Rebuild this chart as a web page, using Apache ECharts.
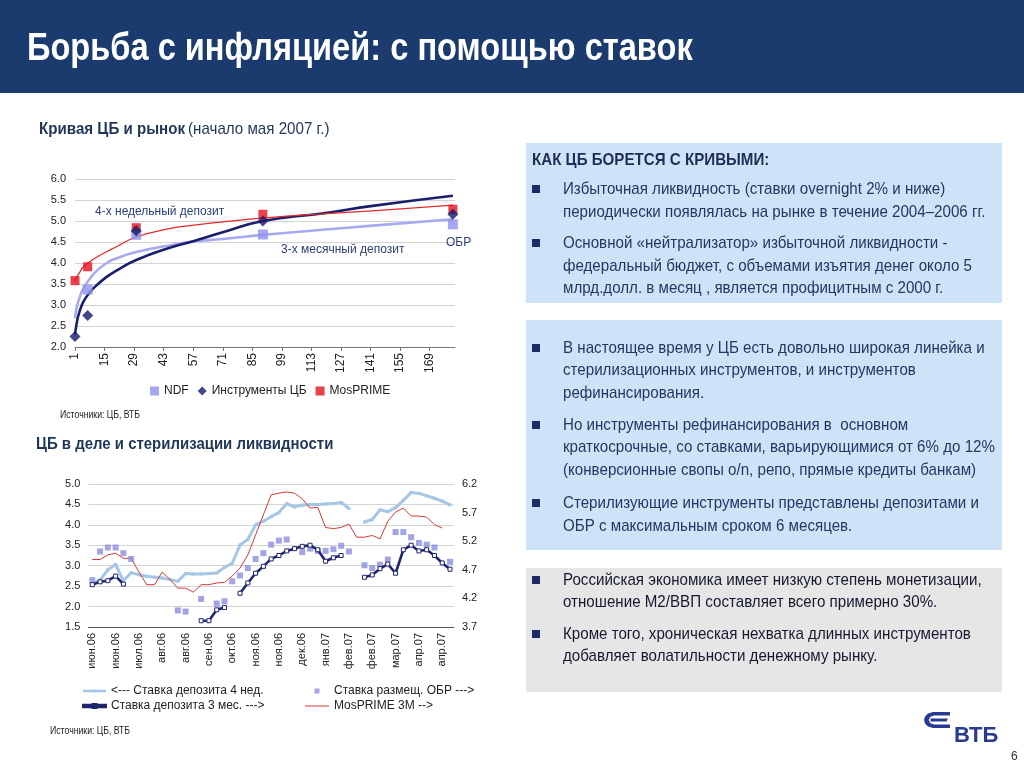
<!DOCTYPE html>
<html><head><meta charset="utf-8">
<script src="https://cdn.jsdelivr.net/npm/echarts@6/dist/echarts.min.js"></script>
<style>html,body{margin:0;padding:0;background:#fff}#c{width:1024px;height:768px}</style>
</head><body><div id="c"></div>
<script>
// ---------- Top chart: curve (days) ----------
const curveDayLabels = Array.from({length: 181}, (_, i) => String(i + 1));
const pointDays = ['1', '7', '30', '90', '180'];
const ndfPoints = [null, 3.37, 4.67, 4.68, 4.92];
const cbPoints = [2.25, 2.75, 4.77, 5.00, 5.16];
const mosPoints = [3.58, 3.91, 4.84, 5.16, 5.28];
const trendDays = ['1','2','3','5','8','11','16','20','30','47','57','71','90','118','142','180'];
const ndfTrend = [2.68, 2.98, 3.15, 3.40, 3.62, 3.80, 4.00, 4.10, 4.26, 4.43, 4.51, 4.57, 4.67, 4.79, 4.89, 5.04];
const cbTrend  = [2.30, 2.62, 2.82, 3.08, 3.30, 3.46, 3.67, 3.80, 4.07, 4.38, 4.52, 4.73, 5.00, 5.18, 5.36, 5.60];
const mosTrend = [3.58, 3.68, 3.76, 3.91, 4.03, 4.13, 4.27, 4.37, 4.62, 4.83, 4.90, 4.98, 5.07, 5.17, 5.24, 5.38];

// ---------- Bottom chart: weekly ----------
const weekCats = [
 'июн.06','июн.06','июн.06','июн.06','июн.06',
 'июл.06','июл.06','июл.06',
 'авг.06','авг.06','авг.06','авг.06','авг.06','авг.06',
 'сен.06','сен.06','сен.06','сен.06',
 'окт.06','окт.06','окт.06',
 'ноя.06','ноя.06','ноя.06','ноя.06','ноя.06',
 'дек.06','дек.06','дек.06','дек.06',
 'янв.07','янв.07','янв.07',
 'фев.07','фев.07','фев.07','фев.07','фев.07',
 'мар.07','мар.07','мар.07','мар.07',
 'апр.07','апр.07','апр.07','апр.07','апр.07'
];
const dep4w = [2.55,2.65,2.90,3.03,2.63,2.83,2.78,2.74,2.72,2.70,2.66,2.62,2.81,2.80,2.80,2.81,2.82,2.96,3.06,3.51,3.64,4.00,4.09,4.20,4.30,4.52,4.44,4.48,4.50,4.50,4.51,4.52,4.55,4.40,null,4.07,4.13,4.37,4.32,4.42,4.60,4.79,4.77,4.71,4.65,4.58,4.49];
const dep3m = [4.44,4.49,4.51,4.59,4.45,null,null,null,null,null,null,null,null,null,3.81,3.81,4.00,4.04,null,4.29,4.47,4.64,4.76,4.89,4.95,5.03,5.07,5.11,5.13,5.05,4.85,4.91,4.95,null,null,4.57,4.61,4.72,4.80,4.64,5.05,5.13,5.03,5.05,4.95,4.82,4.71];
const obr = [4.52,5.02,5.09,5.09,4.99,4.89,null,null,null,null,null,3.99,3.97,null,4.19,null,4.11,4.15,4.50,4.60,4.73,4.89,4.99,5.14,5.21,5.23,null,5.01,5.07,5.03,5.03,5.06,5.12,5.02,null,4.78,4.73,4.79,4.88,5.36,5.36,5.27,5.17,5.14,5.09,null,4.84];
const mosprime3m = [4.88,4.88,4.96,4.99,4.90,4.90,4.66,4.44,4.44,4.66,4.53,4.38,4.38,4.31,4.44,4.44,4.47,4.48,4.59,4.73,4.96,5.31,5.66,6.01,6.04,6.06,6.04,5.94,5.78,5.79,5.44,5.42,5.44,5.50,5.27,5.27,5.30,5.24,5.55,5.71,5.78,5.64,5.64,5.62,5.49,5.43,null];

const pairs = (xs, ys) => xs.map((x, i) => [x, ys[i]]).filter(p => p[1] != null);

const FONT = '"Liberation Sans", Arial, sans-serif';
const NAVY_TXT = '#25365f';
function T(x, y, text, o) {
  o = o || {};
  return {
    type: 'text', x: x, y: y, scaleX: o.sx || 1, z: 10,
    style: {
      text: text, x: 0, y: 0,
      fontSize: o.size || 17, fontWeight: o.bold ? 'bold' : 'normal',
      fontFamily: FONT, fill: o.color || NAVY_TXT,
      align: o.align || 'left', verticalAlign: 'middle'
    }
  };
}
function bullet(y) {
  return {type: 'rect', shape: {x: 532, y: y - 4, width: 8, height: 8}, style: {fill: '#1d2a66'}, z: 10};
}
const SX = 0.89;
const graphics = [
  {type: 'rect', shape: {x: 0, y: 0, width: 1024, height: 93}, style: {fill: '#1b3a6e'}, z: 1},
  T(27, 49, 'Борьба с инфляцией: с помощью ставок', {size: 39, bold: true, color: '#ffffff', sx: 0.836}),
  {type: 'text', x: 39, y: 129, scaleX: SX, z: 10, style: {
     x: 0, y: 0, verticalAlign: 'middle', fontFamily: FONT,
     text: '{b|Кривая ЦБ и рынок} {n|(начало мая 2007 г.)}',
     rich: {b: {fontSize: 17, fontWeight: 'bold', fill: '#1f3559', fontFamily: FONT},
            n: {fontSize: 17, fill: '#1f3559', fontFamily: FONT}}
  }},
  T(95, 212, '4-х недельный депозит', {size: 12, color: '#2b3f77'}),
  T(281, 250, '3-х месячный депозит', {size: 12, color: '#2b3f77'}),
  T(446, 243, 'ОБР', {size: 12, color: '#2b3f77'}),
  T(60, 415, 'Источники: ЦБ, ВТБ', {size: 10, color: '#222', sx: 0.87}),
  T(36, 444, 'ЦБ в деле и стерилизации ликвидности', {size: 17, bold: true, color: '#1f3559', sx: 0.88}),
  T(50, 731, 'Источники: ЦБ, ВТБ', {size: 10, color: '#222', sx: 0.87}),
  // Right boxes
  {type: 'rect', shape: {x: 526, y: 143, width: 476, height: 160}, style: {fill: '#cfe3f8'}, z: 1},
  {type: 'rect', shape: {x: 526, y: 320, width: 476, height: 230}, style: {fill: '#cfe3f8'}, z: 1},
  {type: 'rect', shape: {x: 526, y: 568, width: 476, height: 124}, style: {fill: '#e6e6e6'}, z: 1},
  T(532, 160, 'КАК ЦБ БОРЕТСЯ С КРИВЫМИ:', {bold: true, color: '#1f2d55', sx: SX}),
  bullet(189), bullet(243),
  T(563, 189, 'Избыточная ликвидность (ставки overnight 2% и ниже)', {sx: SX}),
  T(563, 212, 'периодически появлялась на рынке в течение 2004–2006 гг.', {sx: SX}),
  T(563, 243, 'Основной «нейтрализатор» избыточной ликвидности -', {sx: SX}),
  T(563, 266, 'федеральный бюджет, с объемами изъятия денег около 5', {sx: SX}),
  T(563, 288, 'млрд.долл. в месяц , является профицитным с 2000 г.', {sx: SX}),
  bullet(348), bullet(425), bullet(503),
  T(563, 348, 'В настоящее время у ЦБ есть довольно широкая линейка и', {sx: SX}),
  T(563, 370, 'стерилизационных инструментов, и инструментов', {sx: SX}),
  T(563, 393, 'рефинансирования.', {sx: SX}),
  T(563, 425, 'Но инструменты рефинансирования в  основном', {sx: SX}),
  T(563, 447, 'краткосрочные, со ставками, варьирующимися от 6% до 12%', {sx: SX}),
  T(563, 470, '(конверсионные свопы о/n, репо, прямые кредиты банкам)', {sx: SX}),
  T(563, 503, 'Стерилизующие инструменты представлены депозитами и', {sx: SX}),
  T(563, 526, 'ОБР с максимальным сроком 6 месяцев.', {sx: SX}),
  bullet(580), bullet(634),
  T(563, 580, 'Российская экономика имеет низкую степень монетизации,', {sx: SX, color: '#16192e'}),
  T(563, 602, 'отношение М2/ВВП составляет всего примерно 30%.', {sx: SX, color: '#16192e'}),
  T(563, 634, 'Кроме того, хроническая нехватка длинных инструментов', {sx: SX, color: '#16192e'}),
  T(563, 656, 'добавляет волатильности денежному рынку.', {sx: SX, color: '#16192e'}),
  // Logo
  {type: 'polygon', z: 10, shape: {points: [[950,712],[933,712],[928,713.5],[925,716.5],[924,720],[925,723.5],[928,726.5],[933,728],[950,728],[950,724.5],[934,724.5],[930.5,723.3],[928.6,720],[930.5,716.7],[934,715.5],[950,715.5]]}, style: {fill: '#2a3c8f'}},
  {type: 'polygon', z: 10, shape: {points: [[930.5,718.6],[948,718.6],[946.5,721.4],[930.5,721.4]]}, style: {fill: '#2a3c8f'}},
  T(954, 736, 'ВТБ', {size: 22, bold: true, color: '#2a3c8f'}),
  T(1011, 757, '6', {size: 12, color: '#333'})
];

const axisLabelStyle = {color: '#222', fontSize: 11, fontFamily: FONT};
const option = {
  animation: false,
  backgroundColor: '#ffffff',
  textStyle: {fontFamily: FONT},
  graphic: graphics,
  grid: [
    {left: 75, top: 179, width: 380, height: 168},
    {left: 88.4, top: 484, width: 365.5, height: 143}
  ],
  xAxis: [
    {gridIndex: 0, type: 'category', data: curveDayLabels, boundaryGap: false,
     axisLine: {lineStyle: {color: '#777'}},
     axisTick: {interval: 13, length: 4, lineStyle: {color: '#777'}},
     axisLabel: {interval: 13, rotate: 90, fontSize: 12, margin: 6, color: '#222', fontFamily: FONT},
     splitLine: {show: false}},
    {gridIndex: 1, type: 'category', data: weekCats, boundaryGap: true,
     axisLine: {lineStyle: {color: '#555'}},
     axisTick: {interval: 0, length: 4, lineStyle: {color: '#555'}},
     axisLabel: Object.assign({interval: 2, rotate: 90, margin: 6}, axisLabelStyle),
     splitLine: {show: false}}
  ],
  yAxis: [
    {gridIndex: 0, type: 'value', min: 2, max: 6, interval: 0.5,
     axisLine: {show: false}, axisTick: {show: false},
     axisLabel: Object.assign({formatter: v => v.toFixed(1), margin: 9}, axisLabelStyle),
     splitLine: {lineStyle: {color: '#d4d4d4'}}},
    {gridIndex: 1, type: 'value', min: 1.5, max: 5.0, interval: 0.5,
     axisLine: {show: false}, axisTick: {show: false},
     axisLabel: Object.assign({formatter: v => v.toFixed(1), margin: 8}, axisLabelStyle),
     splitLine: {lineStyle: {color: '#d4d4d4'}}},
    {gridIndex: 1, type: 'value', position: 'right', min: 3.7, max: 6.2, interval: 0.5,
     axisLine: {show: false}, axisTick: {show: false},
     axisLabel: Object.assign({formatter: v => v.toFixed(1), margin: 8}, axisLabelStyle),
     splitLine: {show: false}}
  ],
  legend: [
    {data: ['NDF', 'Инструменты ЦБ', 'MosPRIME'], left: 145, top: 380,
     itemWidth: 9, itemHeight: 9, itemGap: 9,
     textStyle: {fontSize: 12, color: '#222', fontFamily: FONT}},
    {data: [
       {name: '<--- Ставка депозита 4 нед.', icon: 'path://M0,0M23,10M0,3.8h23v2.4h-23Z M10,3.5h3v3h-3Z', itemStyle: {color: '#a5c6e6'}},
       {name: 'Ставка депозита 3 мес. --->', icon: 'path://M0,0M23,10M0,3.7h23v2.6h-23Z M9.5,3h4v4h-4Z', itemStyle: {color: '#1f2670'}}
     ], orient: 'vertical',
     left: 82, top: 684, itemWidth: 23, itemHeight: 10, itemGap: 1, padding: 0,
     textStyle: {fontSize: 12, color: '#222', fontFamily: FONT, lineHeight: 14}},
    {data: [
       {name: 'Ставка размещ. ОБР --->', icon: 'path://M0,0M24,10M9.5,2.5h5v5h-5Z'},
       {name: 'MosPRIME 3M -->', icon: 'path://M0,0M24,10M0,4.5h24v1h-24Z'}
     ], orient: 'vertical',
     left: 305, top: 684, itemWidth: 24, itemHeight: 10, itemGap: 1, padding: 0,
     textStyle: {fontSize: 12, color: '#222', fontFamily: FONT, lineHeight: 14}}
  ],
  series: [
    {name: 'NDF тренд', type: 'line', xAxisIndex: 0, yAxisIndex: 0, data: pairs(trendDays, ndfTrend),
     smooth: 0.5, symbol: 'none', lineStyle: {color: '#a8aaf0', width: 2.6}, z: 2, silent: true},
    {name: 'Инструменты ЦБ тренд', type: 'line', xAxisIndex: 0, yAxisIndex: 0, data: pairs(trendDays, cbTrend),
     smooth: 0.5, symbol: 'none', lineStyle: {color: '#1a1f6b', width: 2.6}, z: 2, silent: true},
    {name: 'MosPRIME тренд', type: 'line', xAxisIndex: 0, yAxisIndex: 0, data: pairs(trendDays, mosTrend),
     smooth: 0.5, symbol: 'none', lineStyle: {color: '#e02a2a', width: 1.2}, z: 2, silent: true},
    {name: 'NDF', type: 'scatter', xAxisIndex: 0, yAxisIndex: 0, data: pairs(pointDays, ndfPoints),
     symbol: 'rect', symbolSize: 10, itemStyle: {color: '#8e92ea'}, z: 4},
    {name: 'Инструменты ЦБ', type: 'scatter', xAxisIndex: 0, yAxisIndex: 0, data: pairs(pointDays, cbPoints),
     symbol: 'diamond', symbolSize: 11, itemStyle: {color: '#14186a'}, z: 5},
    {name: 'MosPRIME', type: 'scatter', xAxisIndex: 0, yAxisIndex: 0, data: pairs(pointDays, mosPoints),
     symbol: 'rect', symbolSize: 9, itemStyle: {color: '#e3101b'}, z: 3},

    {name: '<--- Ставка депозита 4 нед.', type: 'line', xAxisIndex: 1, yAxisIndex: 1, data: dep4w,
     symbol: 'rect', symbolSize: 3, showSymbol: true, lineStyle: {color: '#a5c6e6', width: 3},
     itemStyle: {color: '#a5c6e6'}, z: 2},
    {name: 'Ставка депозита 3 мес. --->', type: 'line', xAxisIndex: 1, yAxisIndex: 2, data: dep3m,
     symbol: 'rect', symbolSize: 4, showSymbol: true, lineStyle: {color: '#1f2670', width: 2.6},
     itemStyle: {color: '#ffffff', borderColor: '#1f2670', borderWidth: 1}, z: 4},
    {name: 'Ставка размещ. ОБР --->', type: 'scatter', xAxisIndex: 1, yAxisIndex: 2, data: obr,
     symbol: 'rect', symbolSize: 6, itemStyle: {color: '#8c8de0'}, z: 3},
    {name: 'MosPRIME 3M -->', type: 'line', xAxisIndex: 1, yAxisIndex: 2, data: mosprime3m,
     symbol: 'none', lineStyle: {color: '#d83a34', width: 1}, itemStyle: {color: '#d83a34'}, z: 3}
  ]
};
const chart = echarts.init(document.getElementById('c'), null, {renderer: 'canvas'});
chart.setOption(option);
</script></body></html>
